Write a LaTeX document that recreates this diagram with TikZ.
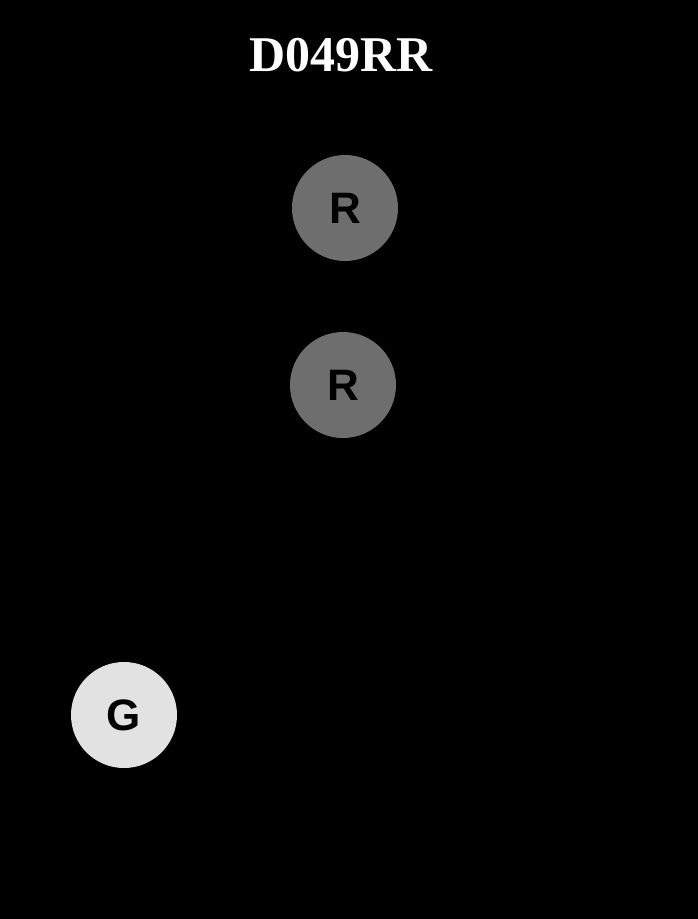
\documentclass[tikz,border=0pt]{standalone}
\usepackage{fontspec}
\setmainfont{Liberation Serif}
\newfontfamily\lsans{Liberation Sans}
\definecolor{rgray}{HTML}{6E6E6E}
\definecolor{ggray}{HTML}{E2E2E2}
\begin{document}
\begin{tikzpicture}[x=1pt,y=-1pt,
  disc/.style={circle,minimum size=106pt,inner sep=0pt,text=black,font=\lsans\bfseries\fontsize{44}{44}\selectfont,text depth=-3pt}]
\fill[black] (0,0) rectangle (698,919);
\useasboundingbox (0,0) rectangle (698,919);
\node[text=white,font=\bfseries\fontsize{50}{50}\selectfont] (title) at (341,55) {D049RR};
\node[disc,fill=rgray] (r1) at (345,208) {R};
\node[disc,fill=rgray] (r2) at (343,385) {R};
\node[disc,fill=ggray] (g) at (124,715) {G};
\end{tikzpicture}
\end{document}
